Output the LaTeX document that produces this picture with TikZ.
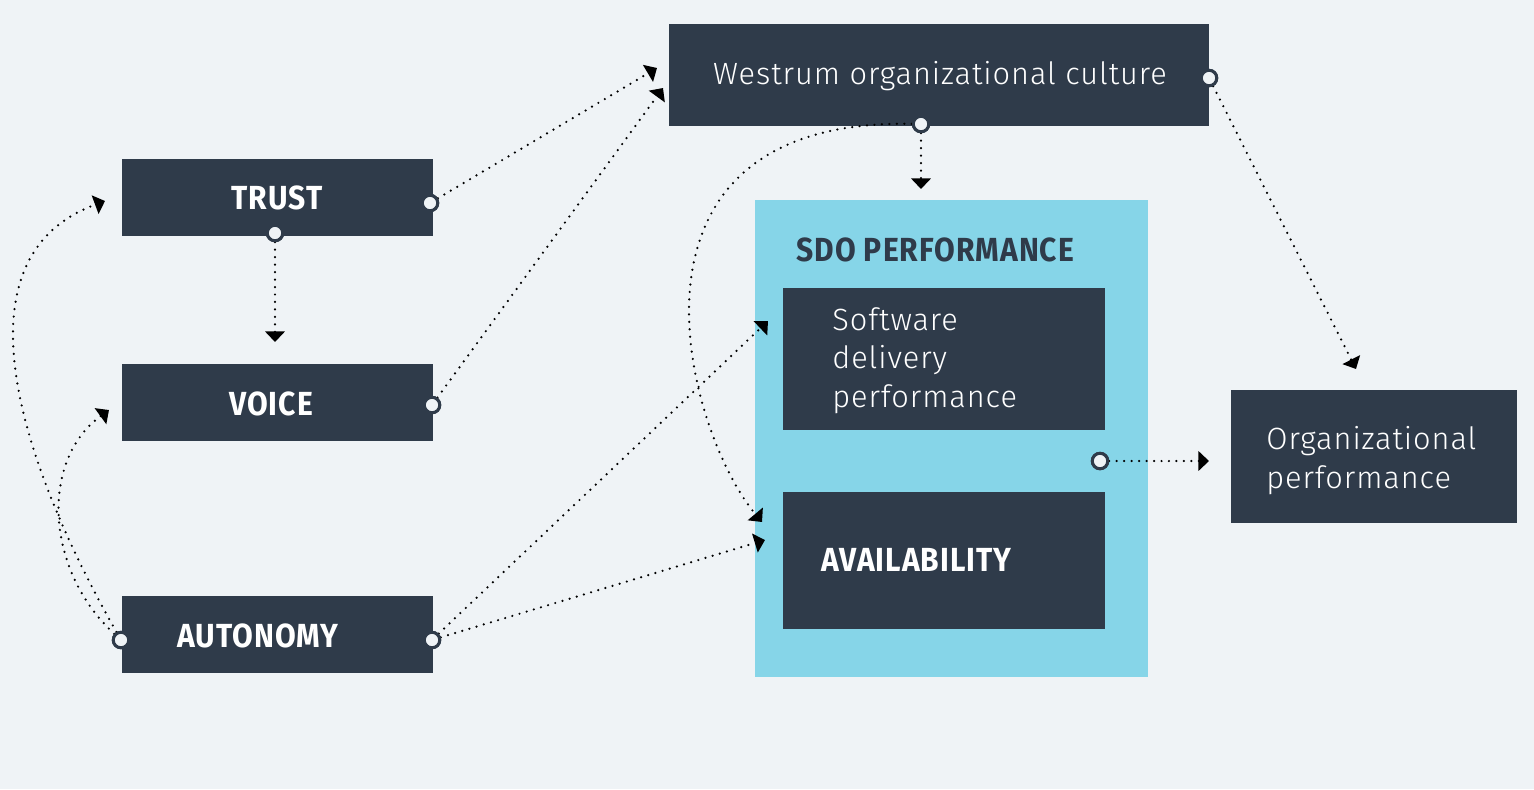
\documentclass[tikz,border=0pt]{standalone}
\usepackage{fontspec}
\setmainfont{Fira Sans}
\newfontfamily\lightfont{Fira Sans Light}[LetterSpace=3]
\newfontfamily\condfont{Fira Sans}[FakeStretch=0.9,LetterSpace=3]
\usetikzlibrary{arrows.meta}
\definecolor{bgc}{HTML}{EFF3F6}
\definecolor{dark}{HTML}{2F3B4A}
\definecolor{sdocyan}{HTML}{86D5E8}
\newcommand\pxl{0.02cm}
\begin{document}
\begin{tikzpicture}[x=0.02cm,y=-0.02cm,
  box/.style={fill=dark, draw=none, inner sep=0pt, anchor=north west},
  boldlbl/.style={font=\condfont\bfseries\fontsize{19}{22}\selectfont, text=white, inner sep=0pt},
  lightlbl/.style={font=\lightfont\fontsize{17.5}{21.8}\selectfont, text=white, inner sep=0pt, align=left},
  port/.style={circle, draw=dark, fill=bgc, line width=1.7pt, minimum size=8.8pt, inner sep=0pt},
  link/.style={line width=1.4pt, line cap=round, dash pattern=on 0pt off 4.25pt,
    -{Triangle[length=6pt,width=11pt]}}
]
\fill[bgc] (0,0) rectangle (1534,789);
\useasboundingbox (0,0) rectangle (1534,789);

% boxes
\node[box, minimum width=540*\pxl, minimum height=102*\pxl] (west) at (669,24) {};
\node[box, minimum width=311*\pxl, minimum height=77*\pxl] (trust) at (122,159) {};
\node[box, minimum width=311*\pxl, minimum height=77*\pxl] (voice) at (122,364) {};
\node[box, minimum width=311*\pxl, minimum height=77*\pxl] (auto) at (122,596) {};
\node[box, fill=sdocyan, minimum width=393*\pxl, minimum height=477*\pxl] (sdo) at (755,200) {};
\node[box, minimum width=322*\pxl, minimum height=142*\pxl] (sdp) at (783,288) {};
\node[box, minimum width=322*\pxl, minimum height=137*\pxl] (avail) at (783,492) {};
\node[box, minimum width=286*\pxl, minimum height=133*\pxl] (org) at (1231,390) {};

% texts
\node[lightlbl, anchor=base] (westT) at (940,84) {Westrum organizational culture};
\node[boldlbl, anchor=base] (trustT) at (277,209) {TRUST};
\node[boldlbl, anchor=base] (voiceT) at (271,415) {VOICE};
\node[boldlbl, anchor=base] (autoT) at (258,647) {AUTONOMY};
\node[boldlbl, text=dark, anchor=base west] (sdoT) at (796,261) {SDO PERFORMANCE};
\node[boldlbl, anchor=base west] (availT) at (821,571) {AVAILABILITY};
\node[lightlbl, anchor=base west] (sdpT) at (832,407) {Software\\delivery\\performance};
\node[lightlbl, anchor=base west] (orgT) at (1266,488) {Organizational\\performance};

% ports
\node[port] (wr) at (1209,78) {};
\node[port] (wb) at (921,124) {};
\node[port] (tr) at (430,203) {};
\node[port] (tb) at (275,233) {};
\node[port] (vr) at (432,405) {};
\node[port] (al) at (121,640) {};
\node[port] (ar) at (432,640) {};
\node[port] (sp) at (1100,461) {};

% arrow end points
\coordinate (eTW) at (657,68);
\coordinate (eVW) at (663,88);
\coordinate (eWD) at (921,189);
\coordinate (eTV) at (275,342);
\coordinate (eWO) at (1356,369);
\coordinate (eAS) at (768,321);
\coordinate (eAA) at (765,540);
\coordinate (eSO) at (1209,461);
\coordinate (eWA) at (762,522);
\coordinate (eAT) at (105,201);
\coordinate (eAV) at (109,410);

% connectors
\draw[link] (tr) -- (eTW);
\draw[link] (vr) -- (eVW);
\draw[link] (wb) -- (eWD);
\draw[link] (tb) -- (eTV);
\draw[link] (wr) -- (eWO);
\draw[link] (ar) -- (eAS);
\draw[link] (ar) -- (eAA);
\draw[link] (sp) -- (eSO);
\draw[link] (wb) .. controls (600,118) and (685,430) .. (eWA);
\draw[link] (al) .. controls (30,480) and (-55,260) .. (eAT);
\draw[link] (al) .. controls (45,570) and (40,460) .. (eAV);

% redraw ports on top
\foreach \p in {wr,wb,tr,tb,vr,al,ar,sp}{
  \node[port] at (\p) {};
}
\end{tikzpicture}
\end{document}
